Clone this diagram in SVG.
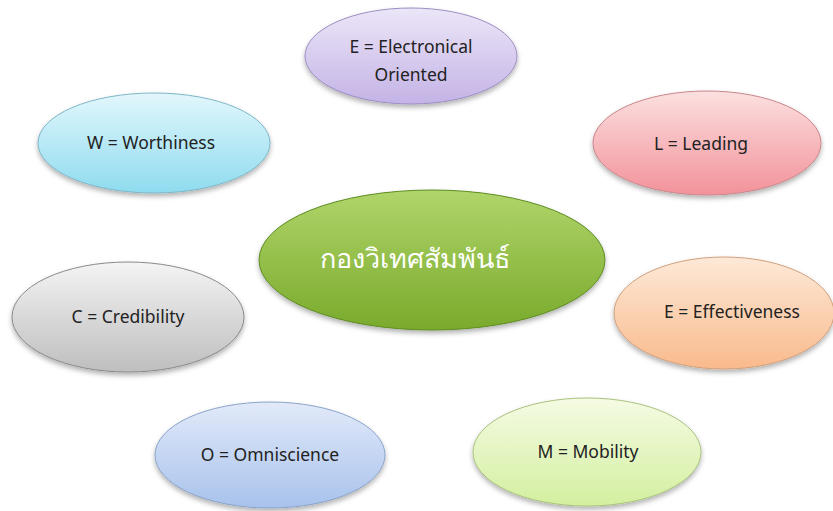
<svg xmlns="http://www.w3.org/2000/svg" width="833" height="511" viewBox="0 0 833 511">
<defs>
<filter id="sh" x="-10%" y="-10%" width="120%" height="130%">
<feDropShadow dx="0" dy="3" stdDeviation="2.5" flood-color="#000" flood-opacity="0.3"/>
</filter>
<linearGradient id="gE" x1="0" y1="0" x2="0" y2="1"><stop offset="0" stop-color="#ece6f8"/><stop offset="1" stop-color="#c4b3e6"/></linearGradient>
<linearGradient id="gW" x1="0" y1="0" x2="0" y2="1"><stop offset="0" stop-color="#e2f7fc"/><stop offset="1" stop-color="#8fdbef"/></linearGradient>
<linearGradient id="gL" x1="0" y1="0" x2="0" y2="1"><stop offset="0" stop-color="#fce0e0"/><stop offset="1" stop-color="#f2929a"/></linearGradient>
<linearGradient id="gC" x1="0" y1="0" x2="0" y2="1"><stop offset="0" stop-color="#f4f4f4"/><stop offset="1" stop-color="#bebebe"/></linearGradient>
<linearGradient id="gF" x1="0" y1="0" x2="0" y2="1"><stop offset="0" stop-color="#fde9d8"/><stop offset="1" stop-color="#f9ba8c"/></linearGradient>
<linearGradient id="gO" x1="0" y1="0" x2="0" y2="1"><stop offset="0" stop-color="#e2eaf9"/><stop offset="1" stop-color="#a8c2ec"/></linearGradient>
<linearGradient id="gM" x1="0" y1="0" x2="0" y2="1"><stop offset="0" stop-color="#f5fbe4"/><stop offset="1" stop-color="#d3ef9f"/></linearGradient>
<linearGradient id="gG" x1="0" y1="0" x2="0" y2="1"><stop offset="0" stop-color="#b0d56a"/><stop offset="1" stop-color="#79aa2c"/></linearGradient>
</defs>
<style>
.n{stroke-width:1;filter:url(#sh)}
.t{font-family:"Noto Sans","DejaVu Sans",sans-serif;font-size:17.5px;fill:#222222;text-anchor:middle}
.c{font-family:"Noto Sans","DejaVu Sans",sans-serif;font-size:27px;fill:#ffffff;text-anchor:middle}
</style>
<rect width="833" height="511" fill="#ffffff"/>
<g id="connectors"></g>
<g id="node-E1"><ellipse class="n" cx="411" cy="56" rx="106" ry="48" fill="url(#gE)" stroke="#9c8dc2"/><text class="t" x="411" y="53">E = Electronical</text><text class="t" x="411" y="81">Oriented</text></g>
<g id="node-W"><ellipse class="n" cx="154" cy="143" rx="116" ry="50" fill="url(#gW)" stroke="#7db6c6"/><text class="t" x="151" y="149">W = Worthiness</text></g>
<g id="node-L"><ellipse class="n" cx="707" cy="143" rx="114" ry="52" fill="url(#gL)" stroke="#c9868b"/><text class="t" x="701" y="150">L = Leading</text></g>
<g id="node-center"><ellipse class="n" cx="432" cy="260" rx="173" ry="70" fill="url(#gG)" stroke="#5e8c22"/><text class="c" x="415" y="268">กองวิเทศสัมพันธ์</text></g>
<g id="node-C"><ellipse class="n" cx="128" cy="317" rx="116" ry="55" fill="url(#gC)" stroke="#8a8a8a"/><text class="t" x="128" y="323">C = Credibility</text></g>
<g id="node-E2"><ellipse class="n" cx="724" cy="313" rx="110" ry="56" fill="url(#gF)" stroke="#d0a07c"/><text class="t" x="732" y="318">E = Effectiveness</text></g>
<g id="node-O"><ellipse class="n" cx="270" cy="455" rx="115" ry="53" fill="url(#gO)" stroke="#8aa3c9"/><text class="t" x="270" y="461">O = Omniscience</text></g>
<g id="node-M"><ellipse class="n" cx="587" cy="452" rx="114" ry="54" fill="url(#gM)" stroke="#a9c27e"/><text class="t" x="588" y="458">M = Mobility</text></g>
</svg>
